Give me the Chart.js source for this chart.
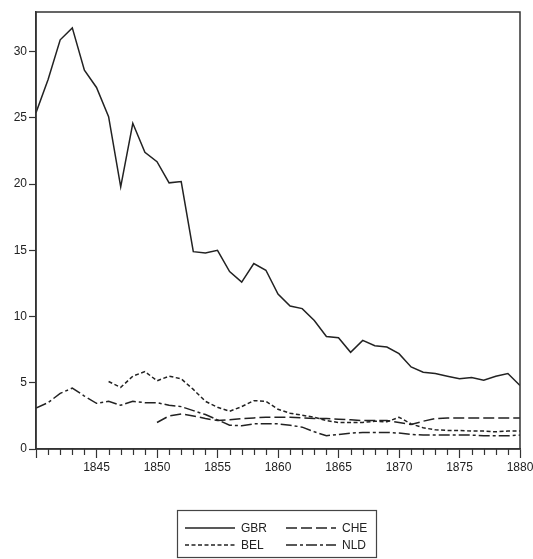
<!DOCTYPE html>
<html>
<head>
<meta charset="utf-8">
<script src="https://cdn.jsdelivr.net/npm/chart.js@4/dist/chart.umd.min.js"></script>
<style>
  html, body { margin: 0; padding: 0; background: #fff; overflow: hidden; }
  #wrap { width: 533px; height: 559px; overflow: hidden; }
</style>
</head>
<body>
<div id="wrap"><canvas id="chart" width="540" height="559"></canvas></div>
<script>
// years on the x axis
const years = [];
for (let y = 1840; y <= 1880; y++) years.push(y);

// series values, one per year (null = no data)
const gbr = [25.4, 27.9, 30.9, 31.8, 28.6, 27.3, 25.1, 19.8, 24.6, 22.4,
  21.7, 20.1, 20.2, 14.9, 14.8, 15.0, 13.4, 12.6, 14.0, 13.5,
  11.7, 10.8, 10.6, 9.7, 8.5, 8.4, 7.3, 8.2, 7.8, 7.7,
  7.2, 6.2, 5.8, 5.7, 5.5, 5.3, 5.4, 5.2, 5.5, 5.7, 4.8];
const bel = [null, null, null, null, null, null, 5.1, 4.65, 5.5, 5.85,
  5.15, 5.5, 5.3, 4.5, 3.6, 3.15, 2.85, 3.2, 3.65, 3.6,
  3.0, 2.7, 2.55, 2.4, 2.15, 2.0, 2.0, 2.0, 2.1, 2.05,
  2.4, 1.9, 1.6, 1.45, 1.4, 1.4, 1.35, 1.35, 1.3, 1.35, 1.35];
const che = [null, null, null, null, null, null, null, null, null, null,
  2.0, 2.5, 2.65, 2.5, 2.3, 2.15, 2.2, 2.3, 2.35, 2.4,
  2.4, 2.4, 2.35, 2.3, 2.3, 2.25, 2.2, 2.15, 2.15, 2.15,
  2.0, 1.85, 2.1, 2.3, 2.35, 2.35, 2.35, 2.35, 2.35, 2.35, 2.35];
const nld = [3.1, 3.5, 4.2, 4.6, 4.0, 3.45, 3.6, 3.3, 3.6, 3.5,
  3.5, 3.3, 3.2, 2.9, 2.6, 2.2, 1.8, 1.75, 1.9, 1.9,
  1.9, 1.8, 1.65, 1.3, 1.0, 1.1, 1.2, 1.25, 1.25, 1.25,
  1.2, 1.1, 1.05, 1.05, 1.05, 1.05, 1.05, 1.0, 1.0, 1.0, 1.05];

const labels = ["GBR", "BEL", "CHE", "NLD"];
const yTicks = [0, 5, 10, 15, 20, 25, 30];

const ink = "#222";
const font = { family: "'Liberation Sans', Arial, sans-serif", size: 12 };

function points(vals) {
  return years.map((y, i) => ({ x: y, y: vals[i] }));
}

function series(label, vals, dash) {
  return {
    label: label,
    data: points(vals),
    borderColor: ink,
    borderWidth: 1.5,
    borderDash: dash,
    pointRadius: 0,
    tension: 0,
    spanGaps: false,
    fill: false,
  };
}

// box around the plot, minor year ticks and the legend at the bottom
const extras = {
  id: "extras",
  afterDraw(chart) {
    const c = chart.ctx;
    const a = chart.chartArea;
    const xs = chart.scales.x;
    c.save();
    c.strokeStyle = "#333";
    c.lineWidth = 1.5;
    c.strokeRect(a.left, a.top, a.right - a.left, a.bottom - a.top);

    // minor ticks every year
    c.lineWidth = 1.2;
    c.beginPath();
    years.forEach((y) => {
      if (y % 5 === 0) return;
      const px = Math.round(xs.getPixelForValue(y)) + 0.5;
      c.moveTo(px, a.bottom);
      c.lineTo(px, a.bottom + 6);
    });
    c.stroke();

    // legend
    const bx = 177.5, by = 510.5, bw = 199, bh = 47;
    c.lineWidth = 1.2;
    c.strokeStyle = "#444";
    c.strokeRect(bx, by, bw, bh);
    c.font = font.size + "px " + font.family;
    c.fillStyle = ink;
    c.textBaseline = "middle";
    c.textAlign = "left";
    chart.data.datasets.forEach((ds, i) => {
      const col = Math.floor(i / 2);
      const row = i % 2;
      const x0 = 185 + col * 101;
      const yy = 528 + row * 17;
      c.strokeStyle = ink;
      c.lineWidth = 1.5;
      c.setLineDash(ds.borderDash || []);
      c.beginPath();
      c.moveTo(x0, yy);
      c.lineTo(x0 + 50, yy);
      c.stroke();
      c.setLineDash([]);
      c.fillText(ds.label, x0 + 56, yy + 1);
    });
    c.restore();
  },
};

new Chart(document.getElementById("chart"), {
  type: "line",
  data: {
    datasets: [
      series(labels[0], gbr, []),
      series(labels[1], bel, [4, 2.5]),
      series(labels[2], che, [11, 4]),
      series(labels[3], nld, [11, 3, 3, 3]),
    ],
  },
  options: {
    responsive: false,
    animation: false,
    devicePixelRatio: 1,
    layout: { padding: { left: 0, top: 12, right: 20, bottom: 80 } },
    plugins: { legend: { display: false }, tooltip: { enabled: false } },
    scales: {
      x: {
        type: "linear",
        min: 1840,
        max: 1880,
        afterFit(s) {
          s.height = 30;
          s.paddingLeft = 0;
          s.paddingRight = 0;
        },
        grid: {
          drawOnChartArea: false,
          tickLength: 9,
          tickWidth: 1.2,
          tickColor: (ctx) => (ctx.tick && ctx.tick.value % 5 === 0 ? "#333" : "rgba(0,0,0,0)"),
        },
        border: { color: "#333", width: 1.5 },
        ticks: {
          stepSize: 1,
          autoSkip: false,
          maxRotation: 0,
          padding: 2,
          color: ink,
          font: font,
          callback: (v) => (v % 5 === 0 && v !== 1840 ? String(v) : ""),
        },
      },
      y: {
        min: 0,
        max: 33,
        afterFit(s) {
          s.width = 36;
          s.paddingTop = 0;
          s.paddingBottom = 0;
        },
        afterBuildTicks(s) {
          s.ticks = yTicks.map((v) => ({ value: v }));
        },
        grid: {
          drawOnChartArea: false,
          tickLength: 7,
          tickWidth: 1.2,
          tickColor: "#333",
        },
        border: { color: "#333", width: 1.5 },
        ticks: { padding: 2, color: ink, font: font },
      },
    },
  },
  plugins: [extras],
});
</script>
</body>
</html>
